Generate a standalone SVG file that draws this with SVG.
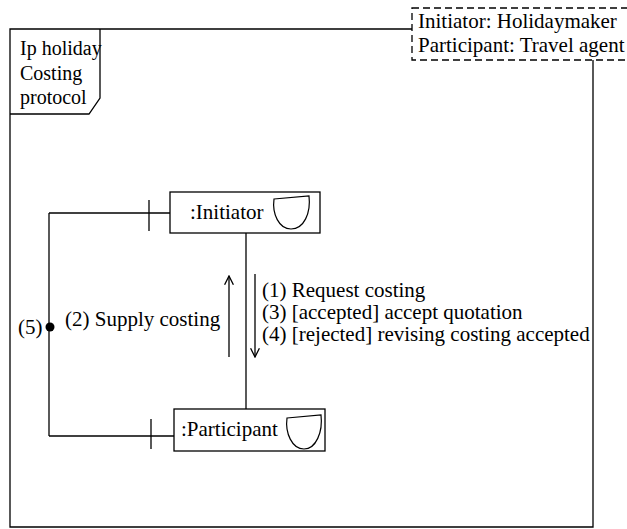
<svg xmlns="http://www.w3.org/2000/svg" width="627" height="529" viewBox="0 0 627 529">
  <style>
    .ln { fill: none; stroke: #000; stroke-width: 1.3; }
    .box { fill: #fff; stroke: #000; stroke-width: 1.3; }
    .cup { fill: #fff; stroke: #000; stroke-width: 1.2; }
    .dash { fill: #fff; stroke: #000; stroke-width: 1.3; stroke-dasharray: 7 4; }
    text { font-family: "Liberation Serif", "Times New Roman", serif; font-size: 21px; fill: #000; }
    .tab { font-size: 20px; }
  </style>
  <defs>
    <marker id="open" viewBox="0 0 10 10" refX="9" refY="5" markerWidth="11" markerHeight="11" markerUnits="userSpaceOnUse" orient="auto">
      <path d="M1,1 L9,5 L1,9" fill="none" stroke="#000" stroke-width="1.2"/>
    </marker>
  </defs>
  <rect width="627" height="529" fill="#fff"/>

  <!-- protocol frame with name tab -->
  <g id="frame">
    <path class="ln" d="M412,29 H10 V527 H593 V60"/>
    <path class="ln" d="M10,114 H89 L100,98 V29"/>
    <text class="tab" x="20" y="55">Ip holiday</text>
    <text class="tab" x="20" y="80">Costing</text>
    <text class="tab" x="20" y="104">protocol</text>
  </g>

  <!-- role bindings -->
  <g id="roles">
    <rect class="dash" x="412" y="8" width="240" height="52"/>
    <text x="418" y="28">Initiator: Holidaymaker</text>
    <text x="418" y="52">Participant: Travel agent</text>
  </g>

  <!-- connectors -->
  <g id="connectors">
    <path class="ln" d="M49,213 H170"/>
    <path class="ln" d="M149,200 V231"/>
    <path class="ln" d="M49,436 H174"/>
    <path class="ln" d="M151,419 V449"/>
    <path class="ln" d="M49,213 V436"/>
    <circle cx="50" cy="327" r="4.5" fill="#000"/>
    <path class="ln" d="M246,233 V409"/>
    <path class="ln" d="M229,357 V276" marker-end="url(#open)"/>
    <path class="ln" d="M255,274 V357" marker-end="url(#open)"/>
    <text x="18" y="334">(5)</text>
    <text x="65" y="326">(2) Supply costing</text>
    <text x="262" y="297">(1) Request costing</text>
    <text x="262" y="319">(3) [accepted] accept quotation</text>
    <text x="262" y="341">(4) [rejected] revising costing accepted</text>
  </g>

  <!-- agent role nodes -->
  <g id="initiator">
    <rect class="box" x="170" y="192" width="150" height="41"/>
    <text x="190" y="219">:Initiator</text>
    <path class="cup" d="M274,199 L309,196 C311,213 304,229 291,229 C279,229 272,214 274,199 Z"/>
  </g>
  <g id="participant">
    <rect class="box" x="174" y="409" width="151" height="42"/>
    <text x="181" y="436">:Participant</text>
    <path class="cup" d="M287,418 L321,415 C323,432 316,449 304,449 C292,449 285,433 287,418 Z"/>
  </g>
</svg>
